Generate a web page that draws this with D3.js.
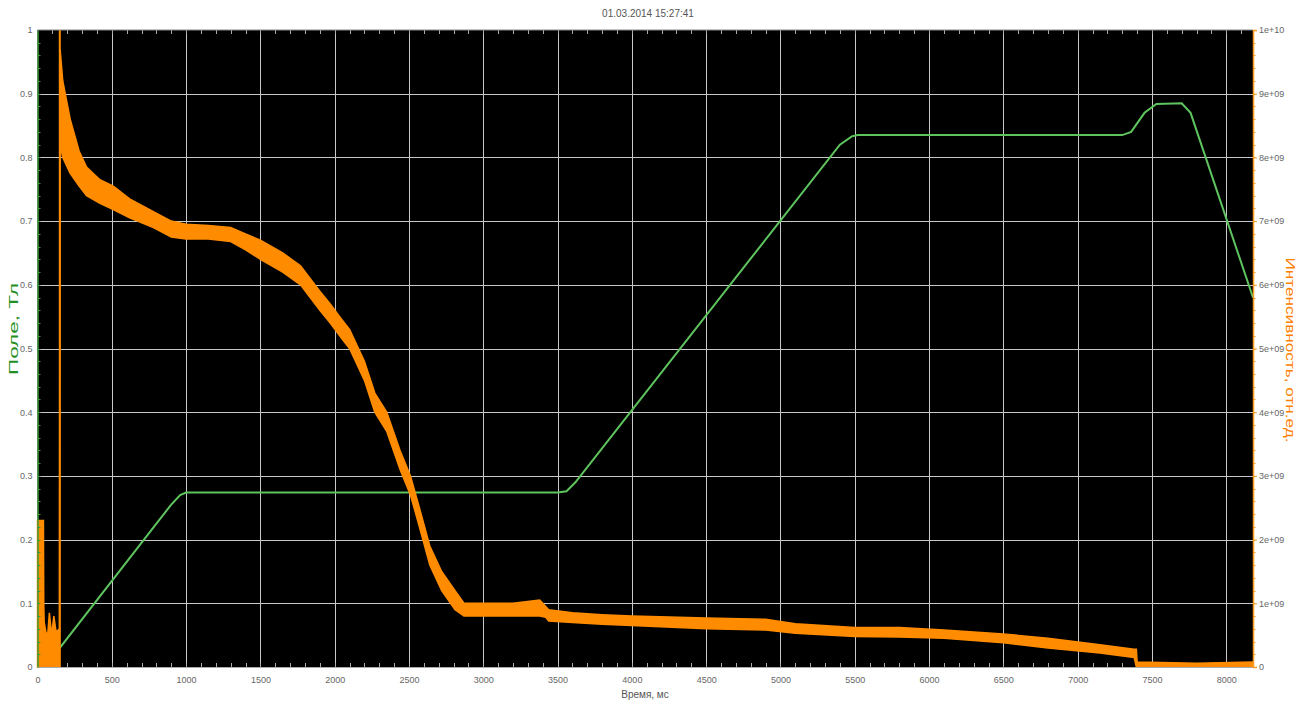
<!DOCTYPE html>
<html>
<head>
<meta charset="utf-8">
<script src="https://cdn.jsdelivr.net/npm/d3@7"></script>
<style>
  body { margin: 0; background: #fff; }
  text { font-family: "Liberation Sans", Arial, sans-serif; }
</style>
</head>
<body>
<svg id="chart" width="1299" height="701"></svg>
<script>
// ---- data ----
const title = "01.03.2014 15:27:41";
const xLabel = "Время, мс";
const leftLabel = "Поле, Тл";
const rightLabel = "Интенсивность, отн.ед.";

const xTicks = [0, 500, 1000, 1500, 2000, 2500, 3000, 3500, 4000, 4500, 5000, 5500, 6000, 6500, 7000, 7500, 8000];
const leftTicks = [0, 0.1, 0.2, 0.3, 0.4, 0.5, 0.6, 0.7, 0.8, 0.9, 1];
const rightTicks = [0, 1e9, 2e9, 3e9, 4e9, 5e9, 6e9, 7e9, 8e9, 9e9, 1e10];

// field (green), Tesla
const fieldTime  = [0, 150, 900, 960, 1000, 3500, 3560, 3620, 5400, 5480, 5520, 7300, 7360, 7450, 7530, 7700, 7760, 8180];
const fieldValue = [0.03, 0.03, 0.255, 0.27, 0.274, 0.274, 0.276, 0.29, 0.82, 0.833, 0.835, 0.835, 0.84, 0.87, 0.884, 0.885, 0.87, 0.58];

// intensity (orange), noisy band: lower / upper envelope
const intensTime = [0, 40, 42, 45, 60, 70, 80, 95, 110, 125, 148,
  152, 170, 220, 280, 330, 420, 510, 620, 780, 900, 1000, 1150, 1300, 1400, 1500, 1650, 1770,
  1900, 1970, 2050, 2100, 2200, 2270, 2350, 2440, 2510, 2570, 2640, 2720, 2810, 2870, 3000,
  3200, 3380, 3420, 3440, 3600, 3800, 4000, 4500, 4900, 5100, 5500, 5800, 6100, 6500, 6800,
  7150, 7380, 7395, 7400, 7800, 8180];
const intensLow = [0, 0, 0, 0, 0, 0, 0, 0, 0, 0, 0,
  8.2e9, 8.0e9, 7.75e9, 7.55e9, 7.4e9, 7.28e9, 7.18e9, 7.05e9, 6.9e9, 6.75e9, 6.72e9, 6.72e9, 6.68e9, 6.55e9, 6.4e9, 6.2e9, 6.0e9,
  5.6e9, 5.4e9, 5.15e9, 5.0e9, 4.5e9, 4.0e9, 3.7e9, 3.1e9, 2.7e9, 2.2e9, 1.6e9, 1.2e9, 0.9e9, 0.8e9, 0.8e9,
  0.8e9, 0.8e9, 0.78e9, 0.72e9, 0.7e9, 0.67e9, 0.65e9, 0.6e9, 0.58e9, 0.53e9, 0.48e9, 0.47e9, 0.45e9, 0.38e9, 0.3e9,
  0.22e9, 0.15e9, 0, 0, 0, 0];
const intensHigh = [2.3e9, 2.3e9, 1.0e9, 0.7e9, 0.5e9, 0.55e9, 0.85e9, 0.5e9, 0.8e9, 0.55e9, 0.6e9,
  9.7e9, 9.2e9, 8.6e9, 8.1e9, 7.85e9, 7.65e9, 7.55e9, 7.35e9, 7.15e9, 7.0e9, 6.95e9, 6.93e9, 6.9e9, 6.8e9, 6.7e9, 6.5e9, 6.3e9,
  5.9e9, 5.7e9, 5.45e9, 5.3e9, 4.8e9, 4.3e9, 4.0e9, 3.4e9, 3.0e9, 2.5e9, 1.9e9, 1.5e9, 1.2e9, 1.0e9, 1.0e9,
  1.0e9, 1.05e9, 0.95e9, 0.9e9, 0.85e9, 0.82e9, 0.8e9, 0.77e9, 0.75e9, 0.68e9, 0.62e9, 0.62e9, 0.58e9, 0.52e9, 0.45e9,
  0.35e9, 0.28e9, 0.28e9, 0.08e9, 0.06e9, 0.08e9];
// the single spike where the beam starts
const spikeTime = 150;
const spikeValue = 1e10;

// ---- layout ----
const svg = d3.select("#chart");
const W = 1299, H = 701;
const mLeft = 37.5, mRight = 1253, mTop = 30, mBottom = 667;

const x = d3.scaleLinear().domain([0, 8180]).range([mLeft, mRight]);
const yL = d3.scaleLinear().domain([0, 1]).range([mBottom, mTop]);
const yR = d3.scaleLinear().domain([0, 1e10]).range([mBottom, mTop]);

svg.append("rect").attr("width", W).attr("height", H).attr("fill", "#fff");
svg.append("rect").attr("x", mLeft).attr("y", mTop)
  .attr("width", mRight - mLeft).attr("height", mBottom - mTop).attr("fill", "#000");

// grid
const grid = svg.append("g").attr("stroke", "#c8c8c8").attr("stroke-width", 1);
grid.selectAll("line.gx").data(xTicks.filter(d => d > 0)).join("line")
  .attr("x1", d => Math.round(x(d)) + 0.5).attr("x2", d => Math.round(x(d)) + 0.5)
  .attr("y1", mTop).attr("y2", mBottom);
grid.selectAll("line.gy").data(leftTicks.filter(d => d > 0 && d < 1)).join("line")
  .attr("x1", mLeft).attr("x2", mRight)
  .attr("y1", d => Math.round(yL(d)) + 0.5).attr("y2", d => Math.round(yL(d)) + 0.5);

// minor ticks on x (inside, bottom & top)
const minorX = d3.range(100, 8180, 100);
svg.append("g").attr("stroke", "#aaa").selectAll("line").data(minorX).join("line")
  .attr("x1", d => Math.round(x(d)) + 0.5).attr("x2", d => Math.round(x(d)) + 0.5)
  .attr("y1", mBottom).attr("y2", mBottom - 4);
svg.append("g").attr("stroke", "#aaa").selectAll("line").data(minorX).join("line")
  .attr("x1", d => Math.round(x(d)) + 0.5).attr("x2", d => Math.round(x(d)) + 0.5)
  .attr("y1", mTop).attr("y2", mTop + 4);

// field line (drawn below the intensity trace)
const fieldLine = d3.line()
  .x((d, i) => x(fieldTime[i]))
  .y((d, i) => yL(fieldValue[i]));
svg.append("path").datum(fieldTime).attr("d", fieldLine)
  .attr("fill", "none").attr("stroke", "#5ec45e").attr("stroke-width", 2);

// intensity band
const band = d3.area()
  .x((d, i) => x(intensTime[i]))
  .y0((d, i) => yR(intensLow[i]))
  .y1((d, i) => yR(intensHigh[i]));
svg.append("path").datum(intensTime).attr("d", band)
  .attr("fill", "#ff8c00").attr("stroke", "#ff8c00").attr("stroke-width", 1.5);
svg.append("line")
  .attr("x1", x(spikeTime)).attr("x2", x(spikeTime))
  .attr("y1", yR(0)).attr("y2", yR(spikeValue))
  .attr("stroke", "#ff8c00").attr("stroke-width", 2);

// bottom axis
const xAxis = svg.append("g").attr("transform", `translate(0,${mBottom})`)
  .call(d3.axisBottom(x).tickValues(xTicks).tickSize(0).tickPadding(10).tickFormat(d3.format("d")));
xAxis.select(".domain").attr("stroke", "#aaa");
xAxis.selectAll("text").attr("fill", "#666").attr("font-size", 9);

// top border
svg.append("line").attr("x1", mLeft).attr("x2", mRight).attr("y1", mTop).attr("y2", mTop)
  .attr("stroke", "#888");

// left axis
const lAxis = svg.append("g").attr("transform", `translate(${mLeft},0)`)
  .call(d3.axisLeft(yL).tickValues(leftTicks).tickSize(0).tickPadding(5).tickFormat(d => d));
lAxis.select(".domain").attr("stroke", "#3a9a3a").attr("stroke-width", 1.5);
lAxis.selectAll("text").attr("fill", "#666").attr("font-size", 9);
svg.append("g").attr("stroke", "#3a9a3a").selectAll("line").data(d3.range(0.02, 1, 0.02)).join("line")
  .attr("x1", mLeft).attr("x2", mLeft + 3)
  .attr("y1", d => Math.round(yL(d)) + 0.5).attr("y2", d => Math.round(yL(d)) + 0.5);

// right axis
const expFmt = d => {
  if (d === 0) return "0";
  const e = Math.floor(Math.log10(d) + 1e-9);
  const m = Math.round(d / Math.pow(10, e));
  return `${m}e+${String(e).padStart(2, "0")}`;
};
const rAxis = svg.append("g").attr("transform", `translate(${mRight},0)`)
  .call(d3.axisRight(yR).tickValues(rightTicks).tickSize(4).tickPadding(2).tickFormat(expFmt));
rAxis.select(".domain").attr("stroke", "#ff9a20").attr("stroke-width", 1.5);
rAxis.selectAll(".tick line").attr("stroke", "#ff9a20");
rAxis.selectAll("text").attr("fill", "#666").attr("font-size", 9);
svg.append("g").attr("stroke", "#ff9a20").selectAll("line").data(d3.range(2e8, 1e10, 2e8)).join("line")
  .attr("x1", mRight).attr("x2", mRight + 2.5)
  .attr("y1", d => Math.round(yR(d)) + 0.5).attr("y2", d => Math.round(yR(d)) + 0.5);

// titles
svg.append("text").attr("x", 648).attr("y", 17).attr("text-anchor", "middle")
  .attr("font-size", 10).attr("fill", "#555").text(title);
svg.append("text").attr("x", 645).attr("y", 698).attr("text-anchor", "middle")
  .attr("font-size", 10).attr("fill", "#555").text(xLabel);
svg.append("text").attr("transform", "translate(18,329) rotate(-90)").attr("text-anchor", "middle")
  .attr("font-size", 13).attr("fill", "#1f8f1f")
  .attr("textLength", 92).attr("lengthAdjust", "spacingAndGlyphs").text(leftLabel);
svg.append("text").attr("transform", "translate(1286,350) rotate(90)").attr("text-anchor", "middle")
  .attr("font-size", 13).attr("fill", "#ff8000")
  .attr("textLength", 185).attr("lengthAdjust", "spacingAndGlyphs").text(rightLabel);
</script>
</body>
</html>
